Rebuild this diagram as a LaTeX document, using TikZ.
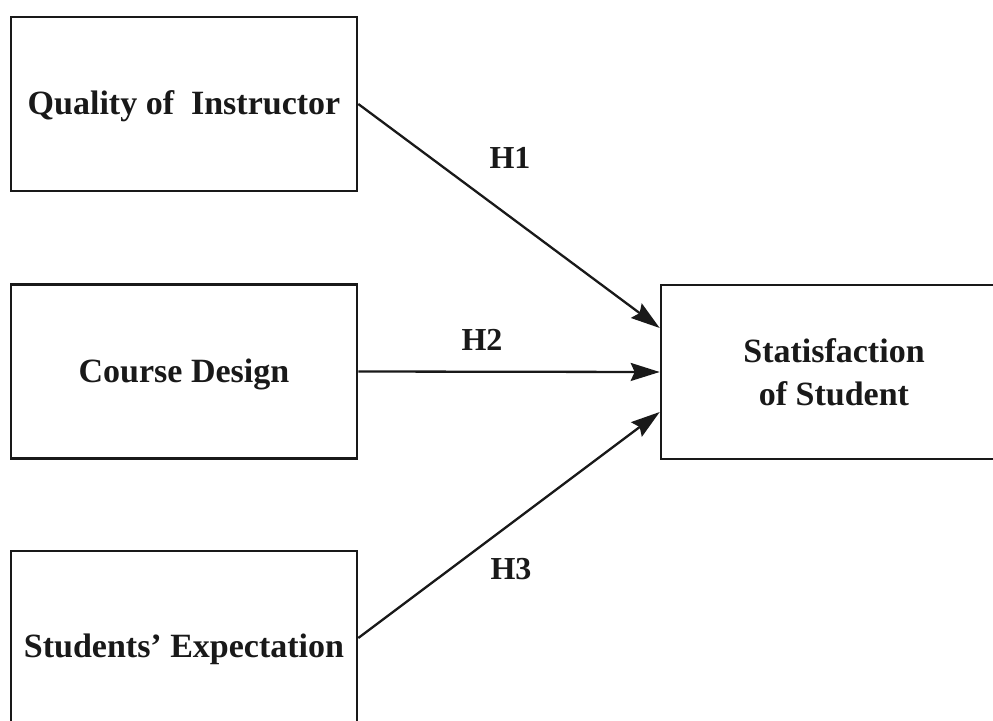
\documentclass[tikz,border=0pt]{standalone}
\usepackage{fontspec}
\setmainfont{Liberation Serif}
\usetikzlibrary{arrows.meta}
\newcommand{\lowerby}[2]{\raisebox{-#1}[\height][\depth]{#2}}
\begin{document}
\begin{tikzpicture}[x=1pt,y=-1pt,
  boxnode/.style={draw=black!90, line width=2.6pt, minimum width=346pt, minimum height=174pt, inner sep=0pt,
    font=\fontsize{34}{43}\selectfont\bfseries, text=black!90, align=center},
  link/.style={line width=2.3pt, draw=black!90, -{Stealth[length=29pt,width=18pt,inset=4pt]}},
  hyp/.style={font=\fontsize{32}{38}\selectfont\bfseries, text=black!90, inner sep=0pt}]
\useasboundingbox (0,0) rectangle (993,720);
\clip (0,0) rectangle (993,720);
\fill[white] (0,0) rectangle (993,720);
\node[boxnode] (qi) at (184,104) {\lowerby{2pt}{Quality of~\ Instructor}};
\node[boxnode] (cd) at (184,371.5) {\lowerby{3pt}{Course Design}};
\node[boxnode] (se) at (184,638) {\lowerby{11pt}{Students’ Expectation}};
\node[boxnode] (ss) at (834,372) {Statisfaction\\of Student};
\coordinate (e1) at ([yshift=44pt]ss.west);
\coordinate (e3) at ([yshift=-40pt]ss.west);
\draw[link] (qi.east) -- (e1);
\draw[link] (cd.east) -- (ss.west);
\draw[link] (se.east) -- (e3);
\node[hyp] (h1) at (510,158) {H1};
\node[hyp] (h2) at (482,340) {H2};
\node[hyp] (h3) at (511,569) {H3};
\end{tikzpicture}
\end{document}
